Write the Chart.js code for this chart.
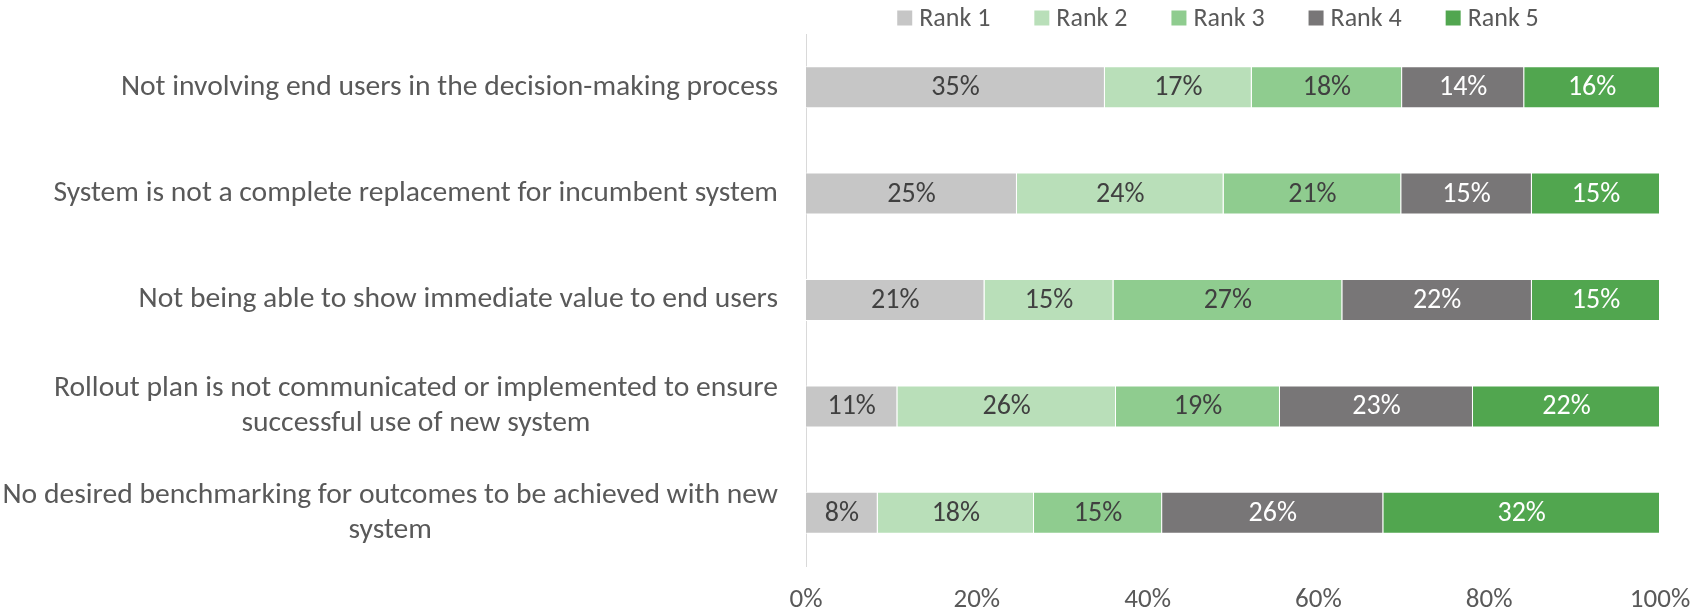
<!DOCTYPE html>
<html>
<head>
<meta charset="utf-8">
<script src="https://cdn.jsdelivr.net/npm/chart.js@4.4.1/dist/chart.umd.min.js"></script>
<style>
  html, body { margin: 0; padding: 0; background: #fff; }
  #wrap { width: 1705px; height: 612px; position: relative; }
</style>
</head>
<body>
<div id="wrap"><canvas id="chart" width="1705" height="612"></canvas></div>
<script>
const categories = [
    ["Not involving end users in the decision-making process"],
    ["System is not a complete replacement for incumbent system"],
    ["Not being able to show immediate value to end users"],
    ["Rollout plan is not communicated or implemented to ensure", "successful use of new system"],
    ["No desired benchmarking for outcomes to be achieved with new", "system"],
];
const seriesNames = ["Rank 1", "Rank 2", "Rank 3", "Rank 4", "Rank 5"];
const rank1 = [35.0, 24.7, 20.9, 10.7, 8.4];
const rank2 = [17.2, 24.2, 15.1, 25.6, 18.3];
const rank3 = [17.6, 20.8, 26.8, 19.2, 15.0];
const rank4 = [14.3, 15.3, 22.2, 22.6, 25.9];
const rank5 = [15.9, 15.0, 15.0, 21.9, 32.4];
const xTicks = [0, 20, 40, 60, 80, 100];

const colors = ["#C6C6C6", "#B9DFB9", "#8FCC8F", "#787677", "#51A64F"];
const labelColors = ["#404040", "#404040", "#404040", "#ffffff", "#ffffff"];
const FONT = "Carlito, Lato, sans-serif";
const textGrey = "#595959";

// category labels: right aligned block, lines centred inside it
const categoryLabels = {
    id: "categoryLabels",
    afterDraw(chart) {
        const ctx = chart.ctx;
        const y = chart.scales.y;
        const right = chart.chartArea.left - 28;
        ctx.save();
        ctx.font = "29.6px " + FONT;
        ctx.fillStyle = textGrey;
        ctx.textAlign = "center";
        ctx.textBaseline = "middle";
        categories.forEach((lines, i) => {
            const cy = y.getPixelForValue(i);
            const w = Math.max(...lines.map((l) => ctx.measureText(l).width));
            const lh = 35;
            lines.forEach((l, j) => {
                ctx.fillText(l, right - w / 2, cy + (j - (lines.length - 1) / 2) * lh);
            });
        });
        ctx.restore();
    },
};

// value labels in the middle of each segment
const valueLabels = {
    id: "valueLabels",
    afterDatasetsDraw(chart) {
        const ctx = chart.ctx;
        ctx.save();
        ctx.font = "28px " + FONT;
        ctx.textAlign = "center";
        ctx.textBaseline = "middle";
        chart.data.datasets.forEach((ds, di) => {
            const meta = chart.getDatasetMeta(di);
            ctx.fillStyle = labelColors[di];
            meta.data.forEach((bar, i) => {
                const cx = (bar.x + bar.base) / 2;
                ctx.fillText(Math.round(ds.data[i]) + "%", cx, bar.y + 1);
            });
        });
        ctx.restore();
    },
};

// legend drawn above the plot
const topLegend = {
    id: "topLegend",
    afterDraw(chart) {
        const ctx = chart.ctx;
        ctx.save();
        ctx.font = "26px " + FONT;
        ctx.textBaseline = "middle";
        const box = 15, gapText = 7, gapItem = 44;
        const widths = seriesNames.map((n) => box + gapText + ctx.measureText(n).width);
        const total = widths.reduce((a, b) => a + b, 0) + gapItem * (widths.length - 1);
        let x = 1218 - total / 2;
        const cy = 18;
        seriesNames.forEach((n, i) => {
            ctx.fillStyle = colors[i];
            ctx.fillRect(x, cy - box / 2, box, box);
            ctx.fillStyle = textGrey;
            ctx.textAlign = "left";
            ctx.fillText(n, x + box + gapText, cy + 1);
            x += widths[i] + gapItem;
        });
        ctx.restore();
    },
};

new Chart(document.getElementById("chart").getContext("2d"), {
    type: "bar",
    data: {
        labels: categories,
        datasets: [rank1, rank2, rank3, rank4, rank5].map((d, i) => ({
            label: seriesNames[i],
            data: d,
            backgroundColor: colors[i],
            borderColor: "#ffffff",
            borderWidth: 1,
            barPercentage: 0.395,
            categoryPercentage: 1.0,
        })),
    },
    options: {
        indexAxis: "y",
        responsive: false,
        animation: false,
        layout: { padding: { left: 806, right: 45, top: 34, bottom: 0 } },
        plugins: {
            legend: { display: false },
            tooltip: { enabled: false },
        },
        scales: {
            x: {
                stacked: true,
                min: 0,
                max: 100,
                afterBuildTicks: (scale) => {
                    scale.ticks = xTicks.map((v) => ({ value: v }));
                },
                afterFit: (scale) => {
                    scale.height = 46;
                    scale.paddingLeft = 0;
                    scale.paddingRight = 0;
                },
                grid: { display: false, drawTicks: false },
                border: { display: false },
                ticks: {
                    padding: 21,
                    color: textGrey,
                    font: { family: FONT, size: 27, lineHeight: 1 },
                    callback: (v) => v + "%",
                },
            },
            y: {
                stacked: true,
                grid: { display: false, drawTicks: false },
                border: { display: true, color: "#D9D9D9", width: 1 },
                ticks: { display: false },
            },
        },
    },
    plugins: [categoryLabels, valueLabels, topLegend],
});
</script>
</body>
</html>
